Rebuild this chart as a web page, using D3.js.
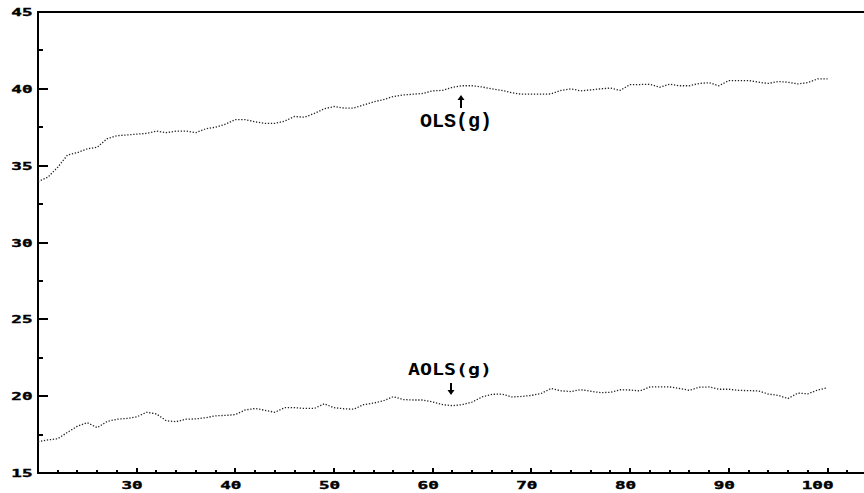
<!DOCTYPE html>
<html>
<head>
<meta charset="utf-8">
<script src="https://cdn.jsdelivr.net/npm/d3@7"></script>
<style>
  body { margin: 0; background: #fff; }
  svg { display: block; }
</style>
</head>
<body>
<script>
// sample sizes on the x axis
var nValues = d3.range(20, 101);

// upper series, OLS(g)
var olsValues = [
  33.96, 34.25, 34.9, 35.7, 35.85, 36.1, 36.2, 36.75, 36.95, 37.0,
  37.05, 37.1, 37.25, 37.15, 37.25, 37.25, 37.15, 37.4, 37.5, 37.7,
  38.0, 38.0, 37.85, 37.75, 37.75, 37.9, 38.2, 38.15, 38.4, 38.7,
  38.85, 38.75, 38.75, 38.95, 39.15, 39.3, 39.5, 39.6, 39.65, 39.7,
  39.87, 39.9, 40.1, 40.2, 40.2, 40.12, 40.0, 39.9, 39.75, 39.65,
  39.65, 39.65, 39.67, 39.9, 40.0, 39.87, 39.93, 40.0, 40.05, 39.9,
  40.28, 40.28, 40.3, 40.1, 40.3, 40.2, 40.2, 40.35, 40.4, 40.2,
  40.54, 40.54, 40.54, 40.43, 40.35, 40.48, 40.43, 40.32, 40.4, 40.65,
  40.65
];

// lower series, AOLS(g)
var aolsValues = [
  17.04, 17.15, 17.23, 17.65, 18.05, 18.27, 17.95, 18.35, 18.5, 18.55,
  18.65, 18.95, 18.84, 18.4, 18.34, 18.5, 18.52, 18.6, 18.72, 18.75,
  18.8, 19.1, 19.2, 19.08, 18.95, 19.25, 19.25, 19.2, 19.2, 19.5,
  19.25, 19.18, 19.15, 19.45, 19.55, 19.7, 19.97, 19.78, 19.75, 19.75,
  19.62, 19.45, 19.38, 19.45, 19.62, 19.95, 20.12, 20.14, 19.95, 19.98,
  20.05, 20.18, 20.5, 20.35, 20.3, 20.42, 20.32, 20.23, 20.25, 20.42,
  20.4, 20.34, 20.6, 20.6, 20.6, 20.5, 20.38, 20.58, 20.6, 20.45,
  20.45, 20.38, 20.36, 20.34, 20.14, 20.05, 19.85, 20.2, 20.15, 20.4,
  20.55
];

// tick values
var xMajorTicks = [30, 40, 50, 60, 70, 80, 90, 100];
var xMinorTicks = [22, 24, 26, 28, 32, 34, 36, 38, 42, 44, 46, 48, 52, 54, 56, 58,
                   62, 64, 66, 68, 72, 74, 76, 78, 82, 84, 86, 88, 92, 94, 96, 98, 102];
var yMajorTicks = [15, 20, 25, 30, 35, 40, 45];
var yMinorTicks = [17.5, 22.5, 27.5, 32.5, 37.5, 42.5];

var W = 864, H = 493;

var xScale = d3.scaleLinear().domain([20, 100]).range([38, 827.5]);
var yScale = d3.scaleLinear().domain([15, 45]).range([473, 12]);

var x0 = xScale(20), y0 = yScale(15);

var svg = d3.select("body").append("svg")
            .attr("width", W)
            .attr("height", H);

// tick marks, all pointing into the plot
function xTicks(values, len) {
    svg.append("g").selectAll("line")
       .data(values).enter().append("line")
       .attr("x1", function(d) { return Math.round(xScale(d)); })
       .attr("x2", function(d) { return Math.round(xScale(d)); })
       .attr("y1", y0).attr("y2", y0 - len)
       .attr("stroke", "#000").attr("stroke-width", 2);
}
function yTicks(values, len) {
    svg.append("g").selectAll("line")
       .data(values).enter().append("line")
       .attr("y1", function(d) { return Math.round(yScale(d)); })
       .attr("y2", function(d) { return Math.round(yScale(d)); })
       .attr("x1", x0).attr("x2", x0 + len)
       .attr("stroke", "#000").attr("stroke-width", 2);
}
xTicks(xMinorTicks, 3);
xTicks(xMajorTicks, 5);
yTicks(yMinorTicks, 5);
yTicks(yMajorTicks, 10);

// labels via d3 axes (lines hidden)
var xAxis = svg.append("g")
   .attr("transform", "translate(0," + y0 + ")")
   .call(d3.axisBottom(xScale).tickValues(xMajorTicks).tickSize(0).offset(0));
var yAxis = svg.append("g")
   .attr("transform", "translate(" + x0 + ",0)")
   .call(d3.axisLeft(yScale).tickValues(yMajorTicks).tickSize(0).offset(0));
svg.selectAll(".domain, .tick line").remove();

xAxis.selectAll("text")
     .attr("x", null).attr("y", null).attr("dy", null)
     .attr("text-anchor", "end")
     .attr("transform", "translate(6,15.5) scale(1.6,1)");
yAxis.selectAll("text")
     .attr("x", null).attr("dy", null)
     .attr("text-anchor", "end")
     .attr("transform", "translate(-5.5,4) scale(1.6,1)");

svg.selectAll(".tick text")
   .style("font-family", "'DejaVu Sans Mono', monospace")
   .style("font-weight", "bold")
   .style("font-size", "11px")
   .attr("fill", "#000")
   .attr("stroke", "#000")
   .attr("stroke-width", 0.4);

// frame: left axis, bottom axis, top border
svg.append("path")
   .attr("d", "M" + W + "," + yScale(45) + "H" + x0 + "V" + y0 + "H" + W)
   .attr("fill", "none")
   .attr("stroke", "#000")
   .attr("stroke-width", 2);

// dotted series lines
var line = d3.line()
             .x(function(d, i) { return xScale(nValues[i]); })
             .y(function(d) { return yScale(d); });

[olsValues, aolsValues].forEach(function(series) {
    svg.append("path")
       .datum(series)
       .attr("d", line)
       .attr("fill", "none")
       .attr("stroke", "#222")
       .attr("stroke-width", 1.3)
       .attr("stroke-dasharray", "1.3,1.7");
});

// annotations
function arrow(xv, yTip, yTail) {
    var x = Math.round(xScale(xv));
    var dir = yTail > yTip ? 1 : -1;
    svg.append("line")
       .attr("x1", x).attr("x2", x)
       .attr("y1", yTip + dir * 3).attr("y2", yTail)
       .attr("stroke", "#000").attr("stroke-width", 2);
    svg.append("path")
       .attr("d", "M" + x + "," + yTip + "L" + (x - 3.5) + "," + (yTip + dir * 5) +
                  "L" + (x + 3.5) + "," + (yTip + dir * 5) + "Z")
       .attr("fill", "#000");
}

arrow(62.9, 95, 108);
svg.append("text")
   .attr("x", 420).attr("y", 126.5)
   .attr("textLength", 72)
   .attr("lengthAdjust", "spacingAndGlyphs")
   .style("font-family", "'Liberation Mono', monospace")
   .style("font-weight", "bold")
   .style("font-size", "21px")
   .text("OLS(g)");

arrow(61.8, 395, 383);
svg.append("text")
   .attr("x", 408).attr("y", 375)
   .attr("textLength", 84)
   .attr("lengthAdjust", "spacingAndGlyphs")
   .style("font-family", "'DejaVu Sans Mono', monospace")
   .style("font-weight", "bold")
   .style("font-size", "16px")
   .text("AOLS(g)");
</script>
</body>
</html>
